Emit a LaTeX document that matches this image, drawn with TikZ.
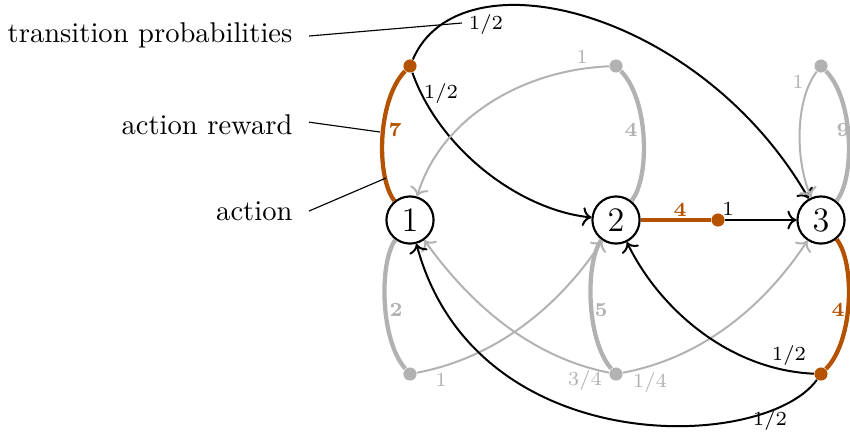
\documentclass[tikz,border=0pt]{standalone}
\usetikzlibrary{arrows.meta}
\definecolor{actorange}{RGB}{180,82,0}
\definecolor{actgray}{RGB}{178,178,178}
\begin{document}
\begin{tikzpicture}[x=0.35pt,y=-0.35pt,
  state/.style={circle,draw,line width=0.75pt,minimum size=16.5pt,inner sep=0pt,font=\large},
  adot/.style={circle,fill,inner sep=0pt,minimum size=4.6pt},
  reward/.style={line width=1.5pt},
  trans/.style={->,line width=0.7pt},
  plbl/.style={font=\scriptsize,inner sep=1pt},
  rlbl/.style={font=\scriptsize\bfseries,inner sep=1pt},
  annot/.style={line width=0.4pt},
  atext/.style={anchor=east,inner sep=0pt}]
\useasboundingbox (0,0) rectangle (850,434);
% states
\node[state] (n1) at (410,220) {1};
\node[state] (n2) at (616,220) {2};
\node[state] (n3) at (821,220) {3};
% action dots
\node[adot,actorange] (a1) at (410,66) {};
\node[adot,actgray] (a2) at (616,66) {};
\node[adot,actgray] (a3) at (821,66) {};
\node[adot,actgray] (b1) at (410,374) {};
\node[adot,actgray] (b2) at (616,374) {};
\node[adot,actorange] (b3) at (821,374) {};
\node[adot,actorange] (c2) at (718,220) {};
% action edges with rewards
\draw[reward,actorange] (n1) .. controls (376,178) and (377,100) .. (a1);
\draw[reward,actgray] (n2) .. controls (650,178) and (649,100) .. (a2);
\draw[reward,actgray] (n3) .. controls (855,178) and (854,100) .. (a3);
\draw[reward,actgray] (n1) .. controls (379,262) and (380,340) .. (b1);
\draw[reward,actgray] (n2) .. controls (585,262) and (586,340) .. (b2);
\draw[reward,actorange] (n3) .. controls (855,262) and (854,340) .. (b3);
\draw[reward,actorange] (n2) -- (c2);
\node[rlbl,actorange] (r7) at (395,130) {7};
\node[rlbl,actgray] (r4a) at (631,130) {4};
\node[rlbl,actgray] (r9) at (843,130) {9};
\node[rlbl,actgray] (r2) at (396,310) {2};
\node[rlbl,actgray] (r5) at (601,310) {5};
\node[rlbl,actorange] (r4b) at (838,310) {4};
\node[rlbl,actorange] (r4c) at (680,210) {4};
% transitions
\draw[trans] (a1) .. controls (460,-50) and (700,10) .. (n3);
\draw[trans] (a1) .. controls (440,150) and (520,210) .. (n2);
\draw[trans,actgray] (a2) .. controls (520,70) and (440,120) .. (n1);
\draw[trans,actgray] (a3) .. controls (795,100) and (795,160) .. (n3);
\draw[trans] (c2) -- (n3);
\draw[trans,actgray] (b1) .. controls (510,355) and (570,290) .. (n2);
\draw[trans,actgray] (b2) .. controls (520,355) and (460,290) .. (n1);
\draw[trans,actgray] (b2) .. controls (716,355) and (775,290) .. (n3);
\draw[trans] (b3) .. controls (730,370) and (660,310) .. (n2);
\draw[trans] (b3) .. controls (765,452) and (475,462) .. (n1);
% probability labels
\node[plbl] (p1) at (486,24) {1/2};
\node[plbl] (p2) at (441,93) {1/2};
\node[plbl,actgray] (p3) at (582,57) {1};
\node[plbl,actgray] (p4) at (798,82) {1};
\node[plbl] (p5) at (728,209) {1};
\node[plbl,actgray] (p6) at (441,380) {1};
\node[plbl,actgray] (p7) at (585,380) {3/4};
\node[plbl,actgray] (p8) at (650,382) {1/4};
\node[plbl] (p9) at (789,355) {1/2};
\node[plbl] (p10) at (770,420) {1/2};
% annotations
\node[atext] (t1) at (293,35) {transition probabilities};
\node[atext] (t2) at (293,125) {action reward};
\node[atext] (t3) at (293,211) {action};
\coordinate (e1) at (462,23);
\coordinate (e2) at (380,132);
\coordinate (e3) at (386,178);
\draw[annot] ([xshift=5.6pt,yshift=-0.35pt]t1.east) -- (e1);
\draw[annot] ([xshift=5.6pt,yshift=1pt]t2.east) -- (e2);
\draw[annot] ([xshift=5.6pt,yshift=0pt]t3.east) -- (e3);
\end{tikzpicture}
\end{document}
